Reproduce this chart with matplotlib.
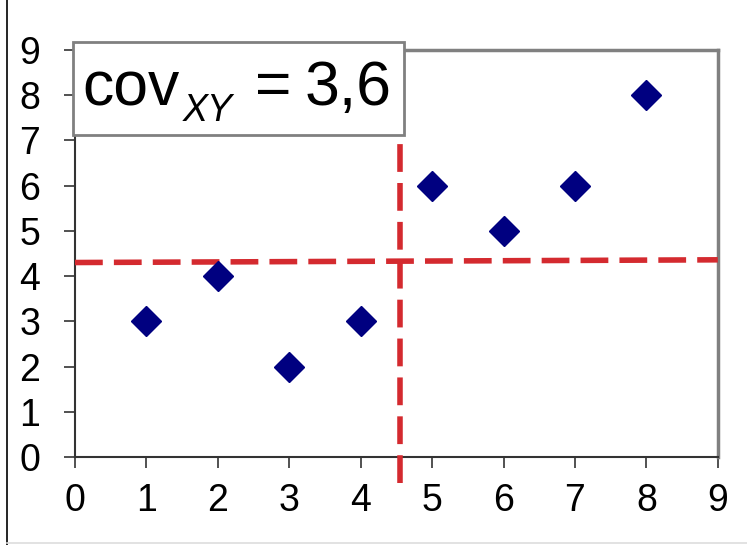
import numpy as np
import matplotlib.pyplot as plt
from matplotlib.lines import Line2D
from matplotlib.patches import Rectangle

plt.rcParams['font.family'] = ['Liberation Sans', 'DejaVu Sans']

# data points
x = [1, 2, 3, 4, 5, 6, 7, 8]
y = [3, 4, 2, 3, 6, 5, 6, 8]
ticks = list(range(10))

# reference lines (as drawn)
vline_x = 4.55
hline_y = [4.3, 4.36]

fig = plt.figure(figsize=(7.47, 5.45), dpi=100)
ax = fig.add_axes([0.1004, 0.1615, 0.8605, 0.7468])

red = '#d42a2f'
ax.plot([0, 9], hline_y, color=red, lw=4, dashes=(5, 2), clip_on=False, zorder=3)
ax.plot([vline_x, vline_x], [-0.58, 8.0], color=red, lw=4, dashes=(5, 2), clip_on=False, zorder=3)
ax.plot(x, y, 'D', color='#000080', ms=15, ls='none', zorder=4, clip_on=False)

ax.set_xlim(0, 9)
ax.set_ylim(0, 9)
ax.set_xticks(ticks)
ax.set_yticks(ticks)
ax.tick_params(labelsize=27, length=8, width=1.2, direction='out', color='#333333')
ax.tick_params(axis='x', pad=11)
ax.tick_params(axis='y', pad=17)
for s in ['left', 'bottom']:
    ax.spines[s].set_color('#333333')
    ax.spines[s].set_linewidth(1.5)
for s in ['top', 'right']:
    ax.spines[s].set_color('#808080')
    ax.spines[s].set_linewidth(2.5)

# covariance label box
ax.add_patch(Rectangle((-0.03, 7.12), 4.64, 2.06, fc='white', ec='#808080', lw=2,
                       clip_on=False, zorder=6))
ax.text(0.10, 7.78, 'cov', fontsize=45, ha='left', va='baseline', zorder=7)
ax.text(1.51, 7.43, 'XY', fontsize=27, style='italic', ha='left', va='baseline', zorder=7)
ax.text(2.52, 7.78, '=', fontsize=45, ha='left', va='baseline', zorder=7)
ax.text(3.22, 7.78, '3,6', fontsize=45, ha='left', va='baseline', zorder=7)

# outer frame pieces
fig.add_artist(Line2D([7 / 747, 7 / 747], [0, 1], color='black', lw=1.2))
fig.add_artist(Line2D([7 / 747, 1], [2 / 545, 2 / 545], color='#dddddd', lw=1.2))

fig.savefig('out.png', dpi=100)
